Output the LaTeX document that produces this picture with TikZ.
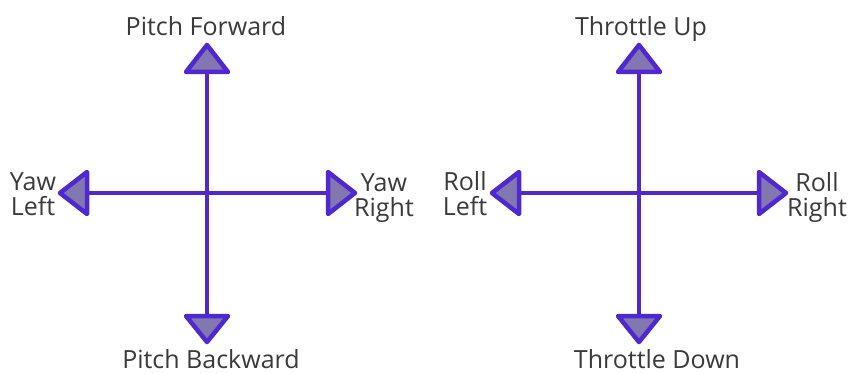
\documentclass[tikz,border=0pt]{standalone}
\usepackage{fontspec}
\setmainfont{Open Sans}
\definecolor{axis}{HTML}{5028D2}
\definecolor{tri}{HTML}{8278AF}
\definecolor{lbl}{HTML}{3A3A3A}
\tikzset{
  axisline/.style={draw=axis, line width=4pt},
  arrowtri/.style={draw=axis, fill=tri, line width=4.5pt, line join=round},
  lab/.style={text=lbl, font=\fontsize{25}{25}\selectfont, inner sep=0pt, align=center},
}
\begin{document}
\begin{tikzpicture}[x=1pt,y=-1pt]
\useasboundingbox (0,0) rectangle (850,374);
\fill[white] (0,0) rectangle (850,374);
% ---------- left cross ----------
\coordinate (Lt) at (207,72);
\coordinate (Lb) at (207,316);
\coordinate (Ll) at (87,193);
\coordinate (Lr) at (328,193);
\draw[axisline] (Lt) -- (Lb);
\draw[axisline] (Ll) -- (Lr);
\draw[arrowtri] (Lt) ++(-21,0) -- ++(21,-27) -- ++(21,27) -- cycle;
\draw[arrowtri] (Lb) ++(-21,0) -- ++(21,26) -- ++(21,-26) -- cycle;
\draw[arrowtri] (Ll) ++(0,-21) -- ++(-27,21) -- ++(27,21) -- cycle;
\draw[arrowtri] (Lr) ++(0,-21) -- ++(27,21) -- ++(-27,21) -- cycle;
\node[lab, anchor=base] (pf) at (206,36) {Pitch Forward};
\node[lab, anchor=base] (pb) at (211,368) {Pitch Backward};
\node[lab, anchor=base] (yl) at (33,215) {Yaw\\Left};
\node[lab, anchor=base] (yr) at (384,216) {Yaw\\Right};
% ---------- right cross ----------
\coordinate (Rt) at (639,72);
\coordinate (Rb) at (639,316);
\coordinate (Rl) at (519,193);
\coordinate (Rr) at (759,193);
\draw[axisline] (Rt) -- (Rb);
\draw[axisline] (Rl) -- (Rr);
\draw[arrowtri] (Rt) ++(-21,0) -- ++(21,-27) -- ++(21,27) -- cycle;
\draw[arrowtri] (Rb) ++(-21,0) -- ++(21,26) -- ++(21,-26) -- cycle;
\draw[arrowtri] (Rl) ++(0,-21) -- ++(-27,21) -- ++(27,21) -- cycle;
\draw[arrowtri] (Rr) ++(0,-21) -- ++(27,21) -- ++(-27,21) -- cycle;
\node[lab, anchor=base] (tu) at (641,36) {Throttle Up};
\node[lab, anchor=base] (td) at (657,368) {Throttle Down};
\node[lab, anchor=base] (rl) at (465,215) {Roll\\Left};
\node[lab, anchor=base] (rr) at (817,216) {Roll\\Right};
\end{tikzpicture}
\end{document}
